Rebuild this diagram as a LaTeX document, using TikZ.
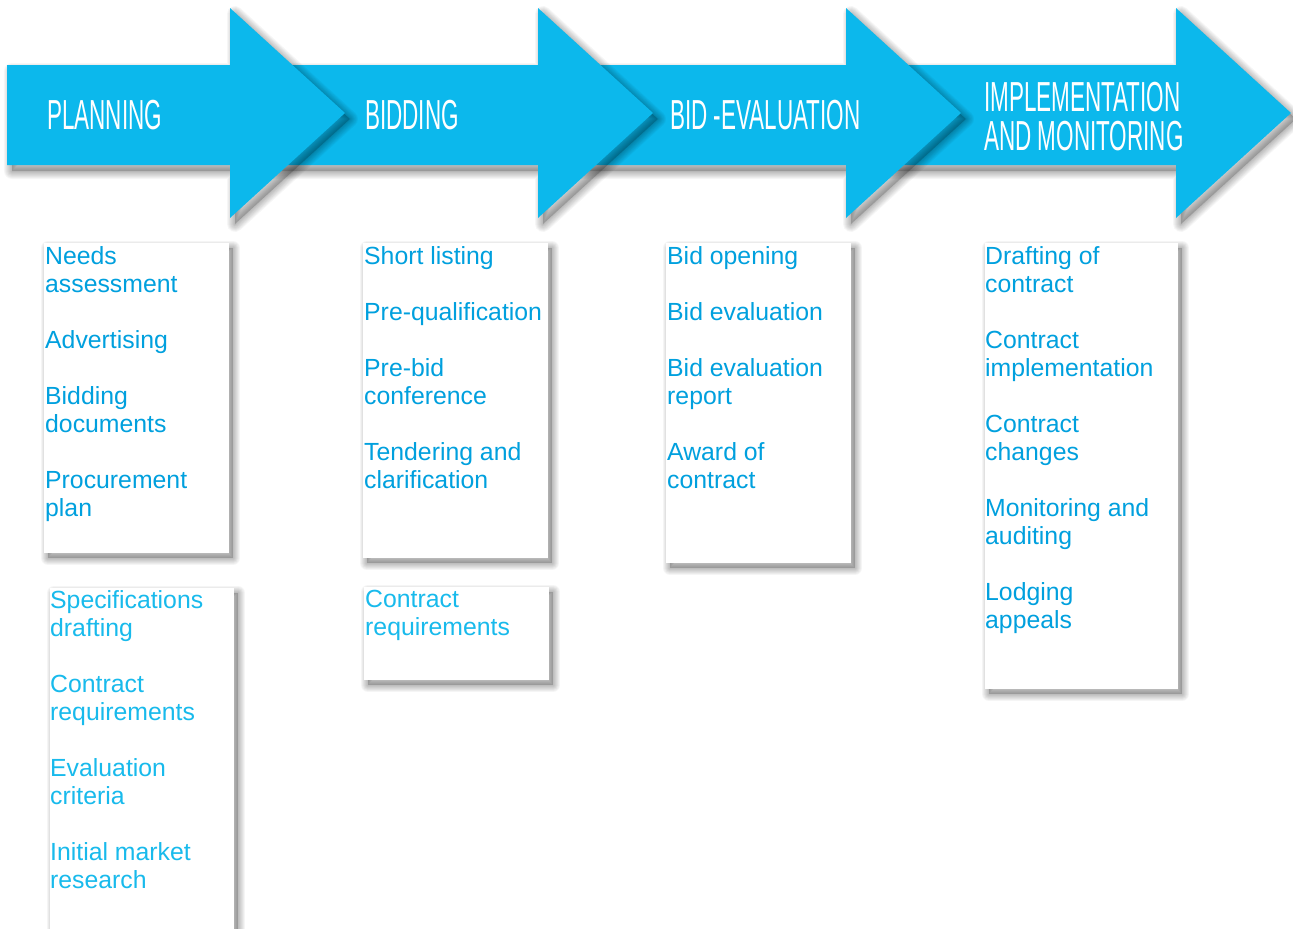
\documentclass[tikz,border=0pt]{standalone}
\usepackage{fontspec}
\setmainfont{Liberation Sans}
\usepackage{graphicx}
\definecolor{arrowblue}{RGB}{12,184,236}
\definecolor{itemblue}{RGB}{0,160,222}
\definecolor{itembluelight}{RGB}{24,186,236}
\newcommand\cond[1]{\scalebox{0.535}[1]{#1}}
% soft shadow of a box
\newcommand\boxshadow[1]{%
  \begin{scope}[shift={(4,5)}]
    \fill[black,fill opacity=0.18] #1;
    \foreach \w in {2,4,6,8,10,12,14}{\draw[black,draw opacity=0.04,line width=\w bp,line join=round] #1;}
  \end{scope}}
% soft shadow of an arrow
\newcommand\arrowshadow[1]{%
  \begin{scope}[shift={(5,6)}]
    \fill[black,fill opacity=0.18] #1;
    \foreach \w in {2,4,6,8,10,12,14,16}{\draw[black,draw opacity=0.035,line width=\w bp,line join=round] #1;}
  \end{scope}}
% arrow outline: #1 body left, #2 head base, #3 tip x
\newcommand\arrowpath[3]{(#1,65) -- (#2,65) -- (#2,8) -- (#3,113) -- (#2,218) -- (#2,165) -- (#1,165) -- cycle}
% item box: name, x1, y1, width, height
\newcommand\itembox[5]{%
  \boxshadow{(#2,#3) rectangle ++(#4,#5)}
  \node[itemframe, minimum width=#4 bp, minimum height=#5 bp, anchor=north west] (#1) at (#2,#3) {};}
\begin{document}
\begin{tikzpicture}[x=1bp,y=-1bp,
  itemframe/.style={rectangle, fill=white, draw=none, inner sep=0pt, outer sep=0pt},
  stage/.style={text=white, font=\fontsize{42bp}{39bp}\selectfont, inner sep=0pt, align=left},
  items/.style={anchor=north west, inner sep=0pt, align=left, font=\fontsize{24.8bp}{28bp}\selectfont},
  arrowfill/.style={fill=arrowblue, draw=none}]
\useasboundingbox (0,0) rectangle (1293,929);
\fill[white] (0,0) rectangle (1293,929);

% arrows, right to left so earlier ones lie on top
\arrowshadow{\arrowpath{856}{1176}{1291}}
\fill[arrowfill] \arrowpath{856}{1176}{1291};
\arrowshadow{\arrowpath{548}{846}{961}}
\fill[arrowfill] \arrowpath{548}{846}{961};
\arrowshadow{\arrowpath{240}{538}{653}}
\fill[arrowfill] \arrowpath{240}{538}{653};
\arrowshadow{\arrowpath{7}{230}{345}}
\fill[arrowfill] \arrowpath{7}{230}{345};

\node[stage, anchor=base west] (planning) at (47,129) {\cond{PLANNING}};
\node[stage, anchor=base west] (bidding) at (365,129) {\cond{BIDDING}};
\node[stage, anchor=base west] (evaluation) at (670,129) {\cond{BID -EVALUATION}};
\node[stage, anchor=north west] (implementation) at (984,82) {\cond{IMPLEMENTATION}\\\cond{AND MONITORING}};

% boxes
\itembox{planbox}{44}{243}{185}{310}
\itembox{planboxb}{50}{588}{184}{341}
\itembox{bidbox}{363}{243}{185}{315}
\itembox{bidboxb}{364}{587}{185}{93}
\itembox{evalbox}{666}{243}{185}{320}
\itembox{implbox}{985}{243}{193}{446}

\node[items, text=itemblue] (plantext) at (45,244) {\rule{0pt}{20bp}Needs\\assessment\\[28bp]Advertising\\[28bp]Bidding\\documents\\[28bp]Procurement\\plan};
\node[items, text=itembluelight] (plantextb) at (50,588) {\rule{0pt}{20bp}Specifications\\drafting\\[28bp]Contract\\requirements\\[28bp]Evaluation\\criteria\\[28bp]Initial market\\research};
\node[items, text=itemblue] (bidtext) at (364,244) {\rule{0pt}{20bp}Short listing\\[28bp]Pre-qualification\\[28bp]Pre-bid\\conference\\[28bp]Tendering and\\clarification};
\node[items, text=itembluelight] (bidtextb) at (365,587) {\rule{0pt}{20bp}Contract\\requirements};
\node[items, text=itemblue] (evaltext) at (667,244) {\rule{0pt}{20bp}Bid opening\\[28bp]Bid evaluation\\[28bp]Bid evaluation\\report\\[28bp]Award of\\contract};
\node[items, text=itemblue] (impltext) at (985,244) {\rule{0pt}{20bp}Drafting of\\contract\\[28bp]Contract\\implementation\\[28bp]Contract\\changes\\[28bp]Monitoring and\\auditing\\[28bp]Lodging\\appeals};
\end{tikzpicture}
\end{document}
